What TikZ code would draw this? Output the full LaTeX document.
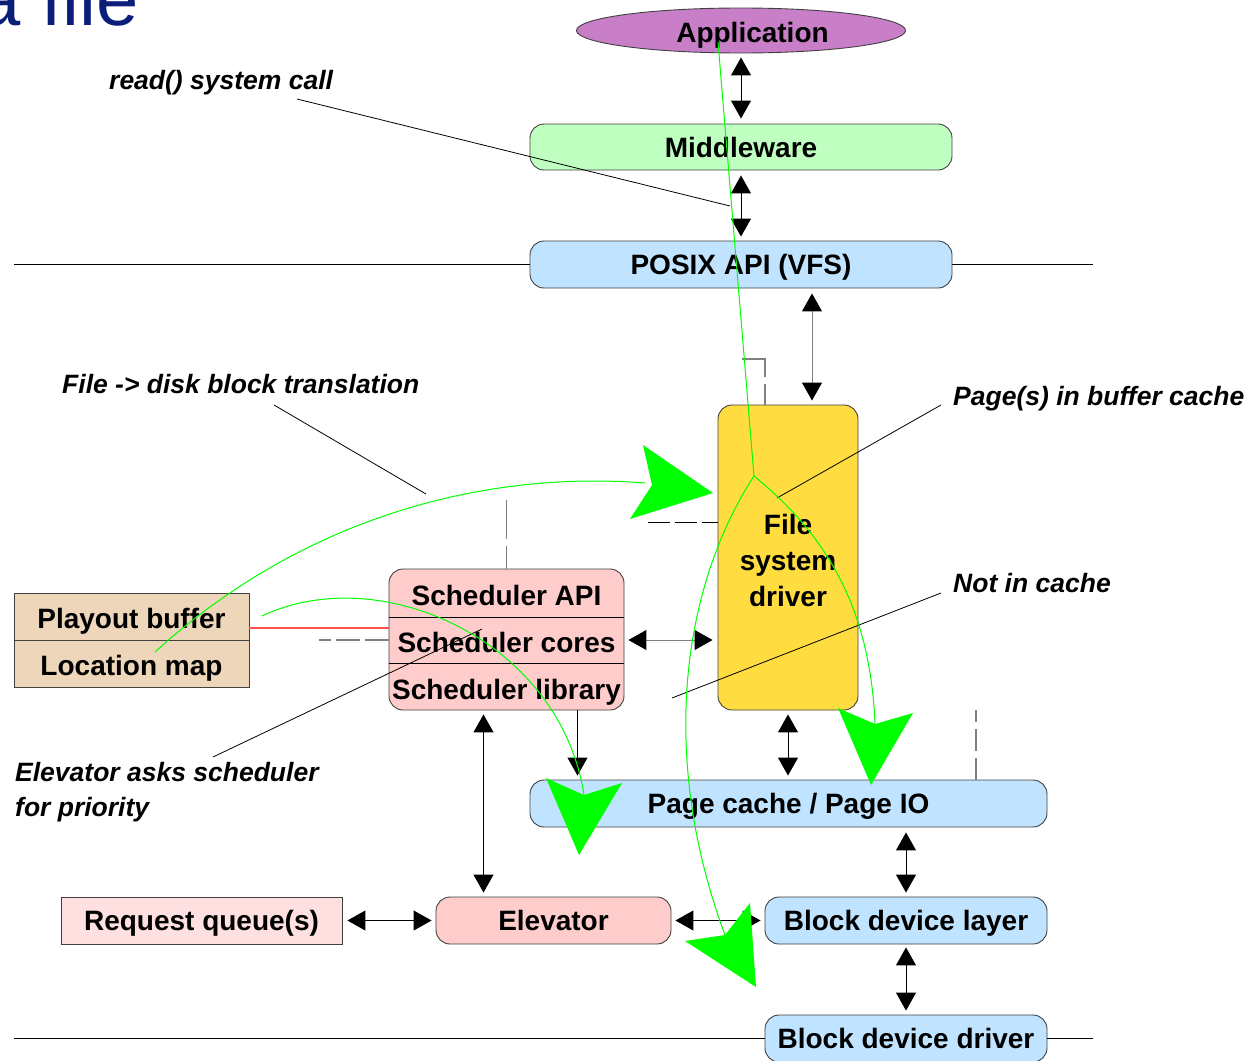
\documentclass[tikz,border=0pt]{standalone}
\usepackage{fontspec}
\setmainfont{Liberation Sans}
\usetikzlibrary{arrows.meta,shapes.geometric}

\definecolor{appfill}{HTML}{C87FC8}
\definecolor{midfill}{HTML}{BFFFBF}
\definecolor{bluefill}{HTML}{C0E4FF}
\definecolor{fsfill}{HTML}{FFDD40}
\definecolor{pinkfill}{HTML}{FFCCCC}
\definecolor{reqfill}{HTML}{FFE0E0}
\definecolor{tanfill}{HTML}{EED6BB}
\definecolor{edgegray}{HTML}{404040}
\definecolor{flowgreen}{HTML}{00FF00}
\definecolor{titleblue}{HTML}{0B1E7A}
\definecolor{redlink}{HTML}{FF5050}
\definecolor{dashgray}{HTML}{808080}

\newcommand{\blkfont}{\fontsize{28}{36}\selectfont\bfseries}
\newcommand{\notefnt}{\fontsize{26.5}{35}\selectfont\bfseries\itshape}

\begin{document}
\begin{tikzpicture}[x=1pt, y=-1pt,
  blk/.style={draw=edgegray, line width=0.9pt, rounded corners=14pt, inner sep=0pt,
              font=\blkfont, text height=20pt, text depth=0pt},
  sqblk/.style={blk, rounded corners=0pt},
  txt/.style={inner sep=0pt, font=\blkfont, text height=20pt, text depth=0pt},
  note/.style={inner sep=0pt, font=\notefnt, text height=19pt, text depth=0pt, anchor=west},
  lead/.style={draw=black, line width=0.8pt},
  dbl/.style={line width=1pt,
              {Triangle[length=18pt,width=20pt,black]}-{Triangle[length=18pt,width=20pt,black]}},
  sgl/.style={line width=1pt, -{Triangle[length=18pt,width=20pt,black]}},
  flow/.style={draw=flowgreen, line width=1pt},
  flowhead/.style={fill=flowgreen, draw=none},
  gdash/.style={draw=dashgray, line width=1.2pt},
  rule/.style={draw=black, line width=1pt}
]
\useasboundingbox (0,0) rectangle (1255,1060);
\clip (0,0) rectangle (1255,1060);

% heading fragment
\node[anchor=base west, inner sep=0pt, text=titleblue, font=\fontsize{76}{80}\selectfont]
  (title) at (-22,25) {a file};

% helper coordinates
\coordinate (cx1) at (812,0);
\coordinate (cx2) at (577.5,0);
\coordinate (cx3) at (483.5,0);
\coordinate (cy1) at (0,640);
\coordinate (d1) at (765,359);
\coordinate (d2) at (742,359);
\coordinate (d3) at (507,500);
\coordinate (d4) at (976,710);
\coordinate (d5) at (319,640);
\coordinate (d6) at (648,522);
\coordinate (d7) at (0,628);
\coordinate (sd1) at (0,617);
\coordinate (sd2) at (0,663);
\coordinate (r1) at (14,264.5);
\coordinate (r2) at (1093,264.5);
\coordinate (r3) at (14,1038.5);
\coordinate (r4) at (1093,1038.5);

% blocks
\node[draw=edgegray, line width=0.9pt, ellipse, fill=appfill, minimum width=329pt,
      minimum height=45pt, inner sep=0pt] (app) at (741,30.5) {};
\node[txt] (apptxt) at (752.5,32) {Application};

\node[blk, fill=midfill, minimum width=422pt, minimum height=46pt] (mid) at (741,147) {Middleware};
\node[blk, fill=bluefill, minimum width=422pt, minimum height=47pt] (posix) at (741,264.5) {POSIX API (VFS)};

\node[blk, fill=fsfill, minimum width=140pt, minimum height=305pt] (fs) at (788,557.5) {};
\node[inner sep=0pt, font=\blkfont, align=center] (fstxt) at (788,560) {File\\system\\driver};

\node[blk, fill=pinkfill, minimum width=235pt, minimum height=141pt] (sched) at (506.5,639.5) {};
\draw[line width=0.8pt] (sched.west |- sd1) -- (sched.east |- sd1);
\draw[line width=0.8pt] (sched.west |- sd2) -- (sched.east |- sd2);
\node[txt] (sapi) at (506.5,595) {Scheduler API};
\node[txt] (score) at (506.5,642) {Scheduler cores};
\node[txt] (slib) at (506.5,689) {Scheduler library};

\node[sqblk, fill=tanfill, minimum width=235pt, minimum height=94pt] (pbox) at (131.5,640) {};
\draw[draw=edgegray, line width=0.9pt] (pbox.west) -- (pbox.east);
\node[txt] (pbuf) at (131.5,618) {Playout buffer};
\node[txt] (lmap) at (131.5,665) {Location map};

\node[blk, fill=bluefill, minimum width=517pt, minimum height=47pt] (page) at (788.5,803.5) {Page cache / Page IO};
\node[sqblk, fill=reqfill, minimum width=281pt, minimum height=47pt] (req) at (201.5,920.5) {Request queue(s)};
\node[blk, fill=pinkfill, minimum width=235pt, minimum height=47pt] (elev) at (553.5,920.5) {Elevator};
\node[blk, fill=bluefill, minimum width=282pt, minimum height=47pt] (bdl) at (906,920.5) {Block device layer};
\node[blk, fill=bluefill, minimum width=282pt, minimum height=47pt] (bdd) at (906,1038.5) {Block device driver};

% boundary rules
\draw[rule] (r1) -- (posix.west);
\draw[rule] (posix.east) -- (r2);
\draw[rule] (r3) -- (bdd.west);
\draw[rule] (bdd.east) -- (r4);

% connectors
\draw[dbl, shorten <=4pt, shorten >=5pt] (app.south) -- (mid.north);
\draw[dbl, shorten <=5pt, shorten >=4pt] (mid.south) -- (posix.north);
\draw[dbl, draw=dashgray, shorten <=5pt, shorten >=4pt] (posix.south -| cx1) -- (fs.north -| cx1);
\draw[dbl, draw=dashgray, shorten <=4pt, shorten >=5pt] (sched.east |- cy1) -- (fs.west |- cy1);
\draw[dbl, shorten <=4pt, shorten >=4pt] (fs.south) -- (page.north -| fs.south);
\draw[sgl, shorten >=4pt] (sched.south -| cx2) -- (page.north -| cx2);
\draw[dbl, shorten <=4pt, shorten >=4pt] (sched.south -| cx3) -- (elev.north -| cx3);
\draw[dbl, shorten <=5pt, shorten >=4pt] (req.east) -- (elev.west);
\draw[dbl, shorten <=4pt, shorten >=4pt] (elev.east) -- (bdl.west);
\draw[dbl, shorten <=5pt, shorten >=4pt] (page.south -| bdl.north) -- (bdl.north);
\draw[dbl, shorten <=3pt, shorten >=4pt] (bdl.south) -- (bdd.north);

% dashed and plain links
\draw[gdash, dash pattern=on 21pt off 7pt on 60pt off 7pt] (fs.north -| d1) -- (d1) -- (d2);
\draw[gdash, dash pattern=on 23pt off 7pt on 60pt off 7pt] (sched.north) -- (sched.north |- d3);
\draw[gdash, dash pattern=on 22pt off 7pt] (page.north -| d4) -- (d4);
\draw[gdash, dash pattern=on 24pt off 5pt] (sched.west |- cy1) -- (d5);
\draw[line width=1pt, dash pattern=on 22pt off 5pt] (d6) -- (fs.west |- d6);
\draw[redlink, line width=1.3pt] (pbox.east |- d7) -- (sched.west |- d7);

% annotations
\node[note] (n1) at (109,80) {read() system call};
\node[note] (n2) at (62,384) {File -> disk block translation};
\node[note] (n3) at (953,396) {Page(s) in buffer cache};
\node[note] (n4) at (953,583) {Not in cache};
\node[inner sep=0pt, font=\notefnt, align=left, anchor=north west] (n5) at (15,762)
  {Elevator asks scheduler\\for priority};

\coordinate (l1a) at (297,99);  \coordinate (l1b) at (730,206);
\coordinate (l2a) at (274,405); \coordinate (l2b) at (426,494);
\coordinate (l3a) at (941,405); \coordinate (l3b) at (777,498);
\coordinate (l4a) at (941,593); \coordinate (l4b) at (672,698);
\coordinate (l5a) at (213,757); \coordinate (l5b) at (482,629);
\draw[lead] (l1a) -- (l1b);
\draw[lead] (l2a) -- (l2b);
\draw[lead] (l3a) -- (l3b);
\draw[lead] (l4a) -- (l4b);
\draw[lead] (l5a) -- (l5b);

% request paths
\coordinate (fork) at (754,476);
\draw[flow] (718,42) -- (fork);
\draw[flow] (fork) .. controls (680,590) and (660,760) .. (725,935);
\draw[flow] (fork) .. controls (820,530) and (870,600) .. (875,724);
\draw[flow] (155,652) .. controls (300,520) and (480,470) .. (645,483);
\draw[flow] (262,616) .. controls (380,560) and (560,640) .. (584,795);

\fill[flowhead] (643,445) -- (713,493) -- (630,519) -- (652,485) -- cycle;
\fill[flowhead] (546,778) -- (579,855) -- (622,783) -- (584,795) -- cycle;
\fill[flowhead] (838,708) -- (871,785) -- (913,713) -- (875,724) -- cycle;
\fill[flowhead] (685,941) -- (756,987) -- (750,903) -- (725,935) -- cycle;
\end{tikzpicture}
\end{document}
